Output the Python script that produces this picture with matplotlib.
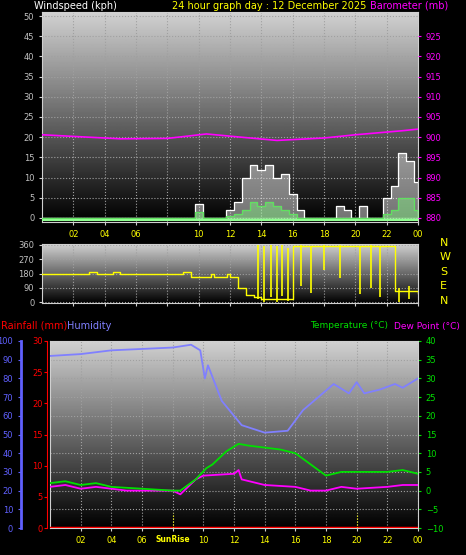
import numpy as np
import matplotlib
matplotlib.use("Agg")
import matplotlib.pyplot as plt

W, H = 466, 555

# half-hourly times
t_half = [i * 0.5 for i in range(49)]
gust = [0] * 20 + [3.5, 0, 0, 0, 2, 4, 10, 13, 12, 13, 10, 11, 6, 2, 0, 0, 0, 0, 3, 2, 0, 3, 0, 0, 5, 8, 16, 14, 9]
avg_wind = [0] * 20 + [1.5, 0, 0, 0, 0.5, 1, 2, 4, 3, 4, 3, 2, 1, 0, 0, 0, 0, 0, 0, 0, 0, 0, 0, 0, 1, 2, 5, 5, 2]
pres_t = [0, 2, 5, 8, 10.5, 13, 15, 18, 20, 23, 24]
pres = [900.6, 900.2, 899.6, 899.7, 900.8, 899.9, 899.2, 899.8, 900.6, 901.6, 902.0]

dir_t = [0, 2.5, 3, 3.5, 4.5, 5, 5.5, 9, 9.5, 10, 10.8, 11, 11.8, 12, 12.5, 13, 13.5, 14, 16, 22, 22.5, 24]
dir_v = [180, 180, 190, 180, 190, 180, 180, 190, 160, 160, 175, 160, 180, 160, 90, 45, 30, 20, 350, 350, 70, 60]
spike_t = [13.8, 14.2, 14.6, 15.0, 15.3, 15.7, 16.5, 17.2, 18.0, 19.0, 20.3, 21.0, 21.6, 22.8, 23.4]
spike_lo = [20, 0, 30, 0, 40, 10, 100, 60, 200, 150, 50, 90, 30, 0, 20]
spike_hi = [360, 350, 360, 350, 360, 340, 360, 350, 360, 360, 350, 360, 350, 90, 100]

hum_t = [0, 2, 4, 8, 9.2, 9.8, 10.1, 10.3, 11.2, 12.5, 14, 15.5, 16.5, 17.5, 18.5, 19.5, 20, 20.5, 21.5, 22.5, 23, 24]
hum = [92, 93, 95, 96.5, 98, 95, 80, 87, 68, 55, 51, 52, 63, 70, 77, 72, 78, 72, 74, 77, 75, 80]
temp_t = [0, 1, 2, 3, 4, 6, 8, 8.5, 9.5, 10.2, 10.6, 11.5, 12.3, 13, 14, 15, 16, 17, 18, 19, 20, 22, 23, 24]
temp = [2, 2.5, 1.5, 2, 1, 0.5, 0, 0, 3, 6, 7, 10.5, 12.5, 12, 11.5, 11, 10, 7, 4, 5, 5, 5, 5.5, 4.5]
dew_t = [0, 1, 2, 3, 5, 8, 8.5, 9.5, 10, 12, 12.3, 12.5, 14, 16, 17, 18, 19, 20, 22, 23, 24]
dew = [1, 1.5, 0.5, 1, 0, 0, -1, 3, 4, 4.5, 5.5, 3, 1.5, 1, 0, 0, 1, 0.5, 1, 1.5, 1.5]
rain = [0, 0]

xticks = [2, 4, 6, 8, 10, 12, 14, 16, 18, 20, 22, 24]
xlabels = ["02", "04", "06", "", "10", "12", "14", "16", "18", "20", "22", "00"]

fig = plt.figure(figsize=(W / 100, H / 100), dpi=100, facecolor="black")


def px_axes(x0, y0, x1, y1):
    return fig.add_axes([x0 / W, 1 - y1 / H, (x1 - x0) / W, (y1 - y0) / H])


grad = np.linspace(0.82, 0.0, 256).reshape(-1, 1)


def style(ax, ylim):
    ax.set_xlim(0, 24)
    ax.set_ylim(*ylim)
    ax.imshow(grad, cmap="gray", vmin=0, vmax=1, aspect="auto",
              extent=[0, 24, ylim[0], ylim[1]], zorder=0)
    ax.set_facecolor("black")
    ax.grid(True, color="#a0a0a0", linestyle=":", linewidth=0.8, zorder=1)
    for s in ax.spines.values():
        s.set_color("#d0d0d0")
    ax.tick_params(colors="#d0d0d0", labelsize=6, length=2)
    ax.set_xticks(xticks)
    ax.set_xticklabels(xlabels, color="yellow")


# --- wind / barometer ---
ax1 = px_axes(42, 12, 418, 222)
style(ax1, (-1, 51))
ax1.set_yticks(range(0, 51, 5))
ax1.tick_params(axis="y", labelcolor="#c0c0c0")
ax1.fill_between(t_half, gust, color="white", alpha=0.45, step="mid", zorder=2)
ax1.step(t_half, gust, where="mid", color="white", lw=0.8, zorder=3)
ax1.fill_between(t_half, avg_wind, color="#80ff80", alpha=0.4, step="mid", zorder=3)
ax1.step(t_half, avg_wind, where="mid", color="#60e060", lw=0.8, zorder=4)
ax1.axhline(-0.5, color="#90ff90", lw=1.5, zorder=4)
ax1b = ax1.twinx()
ax1b.set_ylim(879, 931)
ax1b.plot(pres_t, pres, color="#ff00ff", lw=1.2)
ax1b.set_yticks(range(880, 926, 5))
ax1b.tick_params(colors="#ff00ff", labelsize=6, length=2)
for s in ax1b.spines.values():
    s.set_visible(False)
fig.text(34 / W, 1 - 6 / H, "Windspeed (kph)", color="white", fontsize=7, va="center")
fig.text(172 / W, 1 - 6 / H, "24 hour graph day : 12 December 2025", color="yellow", fontsize=7, va="center")
fig.text(370 / W, 1 - 6 / H, "Barometer (mb)", color="#ff00ff", fontsize=7, va="center")

# --- wind direction ---
ax2 = px_axes(42, 244, 418, 303)
style(ax2, (-5, 365))
ax2.set_yticks([0, 90, 180, 270, 360])
ax2.tick_params(axis="y", labelcolor="#c0c0c0")
ax2.set_xticklabels([])
ax2.plot(dir_t, dir_v, color="yellow", lw=1, drawstyle="steps-post", zorder=3)
ax2.vlines(spike_t, spike_lo, spike_hi, color="yellow", lw=1.2, zorder=3)
for i, lab in enumerate(["N", "W", "S", "E", "N"]):
    fig.text(440 / W, 1 - (243 + i * 14.5) / H, lab, color="yellow", fontsize=8, va="center")

# --- humidity / temperature ---
ax3 = px_axes(50, 341, 418, 528)
style(ax3, (-10, 40))
ax3.set_xticklabels(xlabels, color="yellow")
ax3.plot(dew_t, dew, color="#ff00ff", lw=1.3, zorder=3)
ax3.plot(temp_t, temp, color="#00e000", lw=1.3, zorder=4)
ax3.plot([0, 24], [rain[0] * 50 / 30 - 10, rain[1] * 50 / 30 - 10], color="red", lw=2.5, zorder=5)
for x in [8, 20]:
    ax3.plot([x, x], [-10, -6], color="yellow", lw=0.8, linestyle=":", zorder=5)
ax3.text(8, -13.2, "SunRise", color="yellow", fontsize=5.5, ha="center", va="center", fontweight="bold")

ax3h = ax3.twinx()
ax3h.set_ylim(0, 100)
ax3h.plot(hum_t, hum, color="#8080ff", lw=1.3)
ax3h.yaxis.tick_left()
ax3h.spines["left"].set_position(("outward", 21))
ax3h.spines["left"].set_color("#6060ff")
ax3h.spines["left"].set_linewidth(2)
ax3h.set_yticks(range(0, 101, 10))
ax3h.tick_params(colors="#6060ff", labelsize=6, length=2)
for k in ["right", "top", "bottom"]:
    ax3h.spines[k].set_visible(False)

ax3r = ax3.twinx()
ax3r.set_ylim(0, 30)
ax3r.yaxis.tick_left()
ax3r.spines["left"].set_position(("outward", 2))
ax3r.spines["left"].set_color("red")
ax3r.set_yticks(range(0, 31, 5))
ax3r.tick_params(colors="red", labelsize=6, length=2, pad=1)
for k in ["right", "top", "bottom"]:
    ax3r.spines[k].set_visible(False)

# twinx resets the host to left ticks; put temperature back on the right
ax3.set_yticks(range(-10, 41, 5))
ax3.yaxis.tick_right()
ax3.tick_params(axis="y", colors="#00e000", labelsize=6, length=2)

fig.text(1 / W, 1 - 326 / H, "Rainfall (mm)", color="red", fontsize=7, va="center")
fig.text(67 / W, 1 - 326 / H, "Humidity", color="#8080ff", fontsize=7, va="center")
fig.text(310 / W, 1 - 326 / H, "Temperature (\u00b0C)", color="#00e000", fontsize=6.5, va="center")
fig.text(394 / W, 1 - 326 / H, "Dew Point (\u00b0C)", color="#ff00ff", fontsize=6.5, va="center")

fig.savefig("out.png", dpi=100, facecolor="black")
